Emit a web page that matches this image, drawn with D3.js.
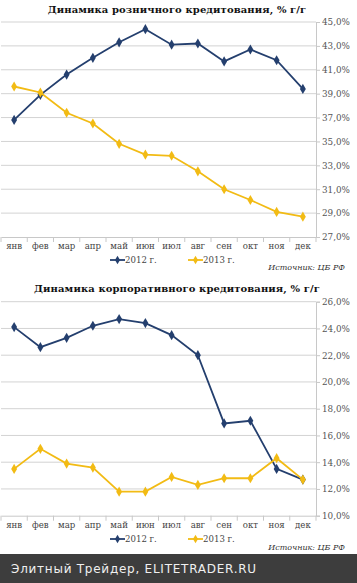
<!DOCTYPE html>
<html><head><meta charset="utf-8">
<script src="https://cdn.jsdelivr.net/npm/d3@7"></script>
<style>
html,body{margin:0;padding:0;background:#fff;}
svg{display:block;}
</style></head>
<body>
<svg id="c" width="357" height="583"></svg>
<script>
const months = ["янв","фев","мар","апр","май","июн","июл","авг","сен","окт","ноя","дек"];
const seriesNames = ["2012 г.","2013 г."];
const retailTitle = "Динамика розничного кредитования, % г/г";
const retail2012 = [36.8,38.9,40.6,42.0,43.3,44.4,43.1,43.2,41.7,42.7,41.8,39.4];
const retail2013 = [39.6,39.1,37.4,36.5,34.8,33.9,33.8,32.5,31.0,30.1,29.1,28.7];
const retailTicks = [27,29,31,33,35,37,39,41,43,45];
const corpTitle = "Динамика корпоративного кредитования, % г/г";
const corp2012 = [24.1,22.6,23.3,24.2,24.7,24.4,23.5,22.0,16.9,17.1,13.5,12.7];
const corp2013 = [13.5,15.0,13.9,13.6,11.8,11.8,12.9,12.3,12.8,12.8,14.3,12.7];
const corpTicks = [10,12,14,16,18,20,22,24,26];
const sourceText = "Источник: ЦБ РФ";
const footerText = "Элитный Трейдер, ELITETRADER.RU";

const colors = ["#243f6e", "#f2bb14"];
const svg = d3.select("#c");
const serif = "'DejaVu Serif', serif";

function chart(cfg){
  const g = svg.append("g");
  const x = d3.scaleBand().domain(months).range([1,316]);
  const y = d3.scaleLinear().domain([cfg.ticks[0], cfg.ticks[cfg.ticks.length-1]]).range([cfg.bottom, cfg.top]);
  g.append("text").attr("x",177).attr("y",cfg.titleY).attr("text-anchor","middle")
    .attr("font-family",serif).attr("font-weight","bold").attr("font-size",10)
    .attr("letter-spacing",0.1).attr("fill","#111").text(cfg.title);
  g.selectAll(".grid").data(cfg.ticks.slice(1)).join("line")
    .attr("x1",1).attr("x2",316).attr("y1",d=>y(d)).attr("y2",d=>y(d))
    .attr("stroke","#d3d3d3").attr("stroke-width",1);
  const ya = d3.axisRight(y).tickValues(cfg.ticks).tickSize(4).tickPadding(2)
    .tickFormat(d=>d3.format(".1f")(d).replace(".",",")+"%");
  const yg = g.append("g").attr("transform","translate(316,0)").call(ya);
  yg.select(".domain").attr("stroke","#c8c8c8");
  yg.selectAll(".tick line").attr("stroke","#c8c8c8");
  yg.selectAll("text").attr("font-family",serif).attr("font-size",8.8).attr("fill","#555");
  const xa = d3.axisBottom(x).tickSize(0).tickPadding(6);
  const xg = g.append("g").attr("transform",`translate(0,${cfg.bottom})`).call(xa);
  xg.select(".domain").attr("stroke","#c8c8c8");
  xg.selectAll("text").attr("font-family",serif).attr("font-size",8.6).attr("fill","#444");
  xg.selectAll(".bnd").data(d3.range(13)).join("line")
    .attr("x1",i=>1+i*x.step()).attr("x2",i=>1+i*x.step())
    .attr("y1",0).attr("y2",5).attr("stroke","#c8c8c8");
  const line = d3.line().x((d,i)=>x(months[i])+x.bandwidth()/2).y(d=>y(d));
  const sym = d3.symbol().type(d3.symbolDiamond).size(30);
  cfg.series.forEach((s,k)=>{
    g.append("path").datum(s).attr("d",line).attr("fill","none")
      .attr("stroke",colors[k]).attr("stroke-width",1.8);
    g.selectAll(".m"+k).data(s).join("path")
      .attr("transform",(d,i)=>`translate(${x(months[i])+x.bandwidth()/2},${y(d)})`)
      .attr("d",sym).attr("fill",colors[k]);
  });
  const lx = [110,188];
  seriesNames.forEach((n,k)=>{
    const lg = g.append("g").attr("transform",`translate(${lx[k]},${cfg.legendY})`);
    lg.append("line").attr("x1",0).attr("x2",15).attr("stroke",colors[k]).attr("stroke-width",1.8);
    lg.append("path").attr("transform","translate(7.5,0)").attr("d",d3.symbol().type(d3.symbolDiamond).size(22)).attr("fill",colors[k]);
    lg.append("text").attr("x",15).attr("y",3).attr("font-family",serif).attr("font-size",8.6).attr("fill","#444").text(n);
  });
  g.append("text").attr("x",345).attr("y",cfg.sourceY).attr("text-anchor","end")
    .attr("font-family",serif).attr("font-style","italic").attr("font-size",8).attr("fill","#333").text(sourceText);
}

chart({title:retailTitle,titleY:13,top:22,bottom:237,ticks:retailTicks,series:[retail2012,retail2013],legendY:260,sourceY:270});
chart({title:corpTitle,titleY:292,top:301.7,bottom:515.7,ticks:corpTicks,series:[corp2012,corp2013],legendY:539,sourceY:550});

svg.append("rect").attr("x",0).attr("y",554).attr("width",357).attr("height",29).attr("fill","#3d3d3d");
svg.append("text").attr("x",11).attr("y",572.5).attr("font-family","'DejaVu Sans', sans-serif")
  .attr("font-size",12).attr("letter-spacing",0.75).attr("fill","#f0f0f0").text(footerText);
</script>
</body></html>
